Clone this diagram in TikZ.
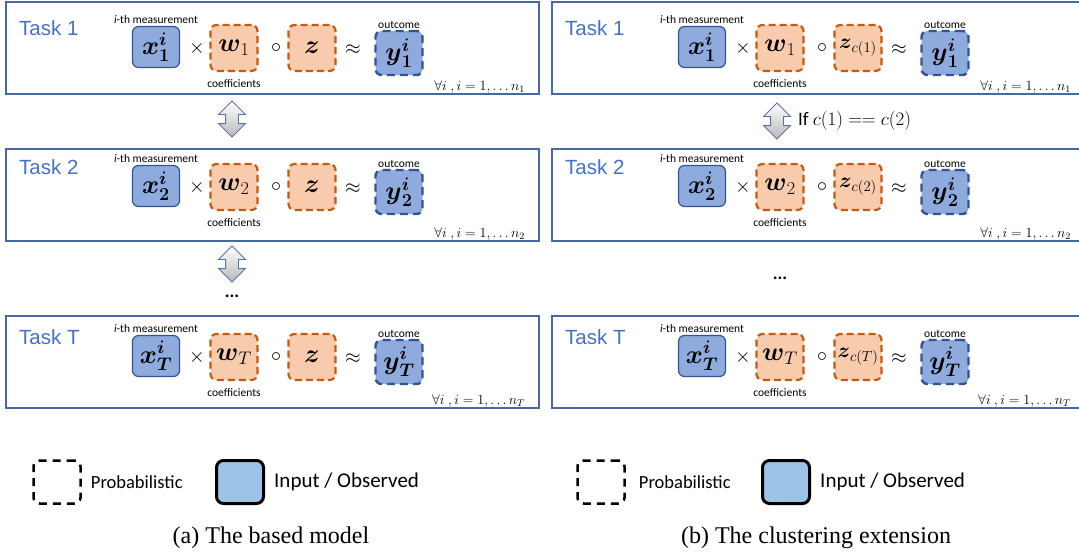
\RequirePackage{fix-cm}
\documentclass[tikz,border=0pt]{standalone}
\usepackage{amsmath}
\usepackage{amssymb}
\usepackage{fontspec}
\setmainfont{Liberation Serif}
\newfontfamily\calib{Carlito}
\newfontfamily\tasksans{Liberation Sans}
\usetikzlibrary{positioning,shapes.arrows}

\definecolor{panelblue}{RGB}{70,105,165}
\definecolor{taskblue}{RGB}{68,114,196}
\definecolor{xfill}{RGB}{143,170,220}
\definecolor{xdraw}{RGB}{47,85,151}
\definecolor{ofill}{RGB}{248,203,173}
\definecolor{odraw}{RGB}{197,90,17}
\definecolor{legfill}{RGB}{157,195,230}
\definecolor{arrowblue}{RGB}{85,115,175}

\tikzset{
  panel/.style={draw=panelblue, line width=1.4pt},
  tasklabel/.style={anchor=west, inner sep=0pt, text=taskblue, font=\tasksans\fontsize{20.5}{24}\selectfont},
  mathtext/.style={font=\fontsize{26}{30}\selectfont},
  optext/.style={inner sep=0pt, font=\fontsize{20}{24}\selectfont},
  smalltext/.style={inner sep=1pt, font=\calib\fontsize{11.5}{13}\selectfont},
  obsbox/.style={mathtext, draw=xdraw, fill=xfill, rounded corners=6pt, line width=1.2pt,
    minimum width=47pt, minimum height=41pt, inner sep=0pt},
  coefbox/.style={mathtext, draw=odraw, fill=ofill, dash pattern=on 7pt off 4pt, rounded corners=6pt,
    line width=2.2pt, minimum width=47pt, minimum height=46pt, inner sep=0pt},
  outbox/.style={mathtext, draw=xdraw, fill=xfill, dash pattern=on 8pt off 5pt, rounded corners=6pt,
    line width=2.4pt, minimum width=47pt, minimum height=44pt, inner sep=0pt},
  darrow/.style={double arrow, shape border rotate=90, draw=arrowblue, line width=0.8pt,
    top color=white, bottom color=gray!55, minimum height=36pt, minimum width=26pt,
    double arrow head extend=7pt, inner sep=6pt},
  legdash/.style={draw, dash pattern=on 8pt off 6pt, line width=2.5pt, rounded corners=6pt,
    minimum width=47pt, minimum height=43pt},
  legsolid/.style={draw, fill=legfill, line width=3pt, rounded corners=7pt,
    minimum width=47pt, minimum height=43pt},
  caption/.style={font=\fontsize{24}{28}\selectfont}
}

\begin{document}
\begin{tikzpicture}[x=1pt,y=-1pt]
\useasboundingbox (0,0) rectangle (1079,552);
% the two panels, three tasks each
\foreach \px/\pn in {0/a,546/b} {
\begin{scope}[xshift=\px]
\foreach \r/\t/\b/\c/\s in {1/2/94/47/1,2/149/241/186/2,3/316/408/356/T} {
  \draw[panel] (6,\t) rectangle (539,\b);
  \node[tasklabel] (task-\pn\r) at (19,\c-19) {Task \s};
  \node[obsbox] (x-\pn\r) at (156,\c) {$\boldsymbol{x}^{\boldsymbol{i}}_{\boldsymbol{\s}}$};
  \node[optext] (times-\pn\r) at (197,\c+1) {$\times$};
  \node[coefbox] (w-\pn\r) at (234,\c+1) {$\boldsymbol{w}_{\s}$};
  \node[optext] (circ-\pn\r) at (276,\c+1) {$\circ$};
  \ifnum\px=0
    \node[coefbox] (z-\pn\r) at (312,\c+1) {$\boldsymbol{z}$};
  \else
    \node[coefbox, font=\fontsize{21}{24}\selectfont] (z-\pn\r) at (312,\c+1) {$\boldsymbol{z}_{c(\s)}$};
  \fi
  \node[optext] (approx-\pn\r) at (353,\c+3) {$\approx$};
  \node[outbox] (y-\pn\r) at (399,\c+6) {$\boldsymbol{y}^{\boldsymbol{i}}_{\boldsymbol{\s}}$};
  \node[smalltext, above=1pt of x-\pn\r] (meas-\pn\r) {\textit{i}-th measurement};
  \node[smalltext, below=6pt of w-\pn\r] (coef-\pn\r) {coefficients};
  \node[smalltext, above=0pt of y-\pn\r] (outc-\pn\r) {outcome};
  \node[anchor=base east, inner sep=0pt, font=\fontsize{14}{16}\selectfont] (all-\pn\r) at (525,\b-4)
    {$\forall i\ , i = 1, \ldots n_{\s}$};
}
\end{scope}
}
% links between tasks
\node[darrow] (link-a1) at (232,119) {};
\node[darrow] (link-a2) at (232,264) {};
\node[font=\calib\bfseries\fontsize{18}{20}\selectfont] (dots-a) at (232,296) {...};
\node[darrow] (link-b1) at (777,121) {};
\node[right=14pt of link-b1, inner sep=0pt, font=\calib\fontsize{19}{22}\selectfont] (cond-b)
  {If $c(1) == c(2)$};
\node[font=\calib\bfseries\fontsize{18}{20}\selectfont] (dots-b) at (780,278) {...};
% legends
\node[legdash] (prob-a) at (57,482) {};
\node[right=9pt of prob-a, inner sep=0pt, font=\calib\fontsize{18.5}{22}\selectfont] (probtxt-a) {Probabilistic};
\node[legsolid] (obs-a) at (240,482) {};
\node[right=9pt of obs-a, inner sep=0pt, font=\calib\fontsize{21}{24}\selectfont] (obstxt-a) {Input / Observed};
\node[legdash] (prob-b) at (601,482) {};
\node[right=13pt of prob-b, inner sep=0pt, font=\calib\fontsize{18.5}{22}\selectfont] (probtxt-b) {Probabilistic};
\node[legsolid] (obs-b) at (786,482) {};
\node[right=9pt of obs-b, inner sep=0pt, font=\calib\fontsize{21}{24}\selectfont] (obstxt-b) {Input / Observed};
\node[caption] (cap-a) at (271,538) {(a) The based model};
\node[caption] (cap-b) at (816,538) {(b) The clustering extension};
\end{tikzpicture}
\end{document}
